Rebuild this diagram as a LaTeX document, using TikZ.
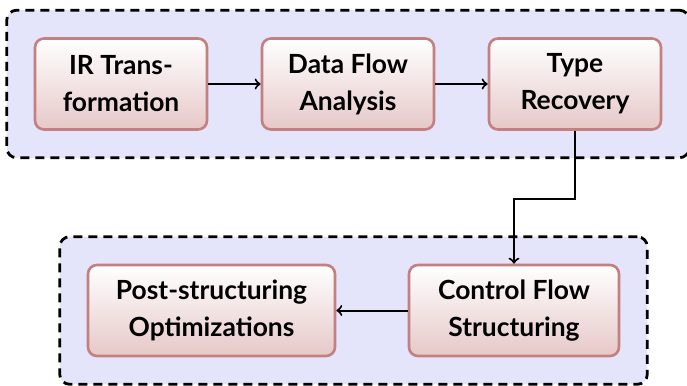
\documentclass[tikz,border=0pt]{standalone}
\usepackage{fontspec}
\setmainfont{Lato}
\usetikzlibrary{positioning,fit,backgrounds}

\definecolor{stageborder}{RGB}{196,128,128}
\definecolor{stagebottom}{RGB}{230,200,200}
\definecolor{groupfill}{RGB}{228,228,250}

\begin{document}
\begin{tikzpicture}[->,
					line width=1pt,
					font=\fontsize{13.2pt}{18.5pt}\selectfont\bfseries,
					stage/.style={rectangle,rounded corners=4.5pt,draw=stageborder,
						line width=1.3pt,top color=white,bottom color=stagebottom,
						align=center,inner xsep=0pt,minimum width=86pt,minimum height=45.5pt},
					group/.style={draw=black,fill=groupfill,rounded corners=5pt,
						line width=1.4pt,dash pattern=on 4.5pt off 3pt,inner sep=13.5pt}]

  \useasboundingbox (-60.5pt,42pt) rectangle (283pt,-151pt);

  \node[stage] (ir) {IR Trans-\\formation};
  \node[stage] (dfa) [right=26.2pt of ir] {Data Flow\\Analysis};
  \node[stage] (type) [right=26.2pt of dfa] {Type\\Recovery};
  \node[stage,minimum width=105pt] (cfs) at (196.5pt,-113.25pt) {Control Flow\\Structuring};
  \node[stage,minimum width=123.5pt] (post) [left=35.7pt of cfs] {Post-structuring\\Optimizations};

  \begin{scope}[on background layer]
    \node[group,fit=(ir) (type)] (front) {};
    \node[group,fit=(post) (cfs)] (back) {};
  \end{scope}

  \path
    (ir) edge (dfa)
    (dfa) edge (type)
    (cfs) edge (post);
  \draw (type.south) -- ++(0,-34.25pt) -| (cfs.north);
\end{tikzpicture}
\end{document}
